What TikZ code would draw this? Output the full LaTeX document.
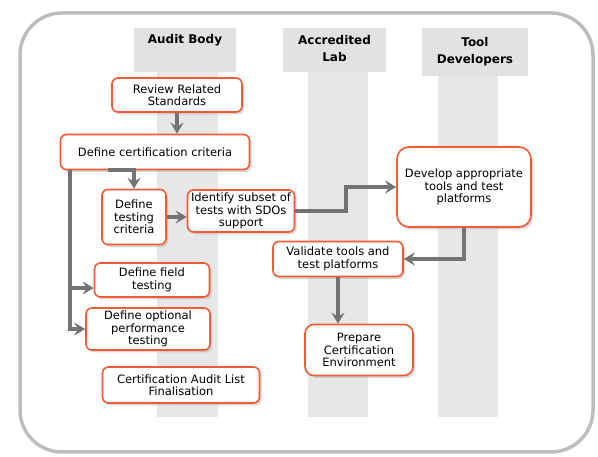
\documentclass[tikz,border=0pt]{standalone}
\usepackage{fontspec}
\setmainfont{DejaVu Sans}
\usetikzlibrary{
  arrows.meta,
  positioning,
  shadows,
  calc
}
\definecolor{laneFill}{HTML}{E7E7E7}
\definecolor{headFill}{HTML}{E2E2E2}
\definecolor{taskStroke}{HTML}{F45A36}
\definecolor{flowGray}{HTML}{737373}
\definecolor{frameGray}{HTML}{BDBDBD}
\tikzset{
  task/.style={
    rectangle, rounded corners=6pt, align=center, inner sep=2pt,
    draw=taskStroke, line width=1.6pt, fill=white,
    font=\fontsize{11.5}{12.5}\selectfont,
    drop shadow={shadow xshift=2pt, shadow yshift=-2.5pt, fill=black!30}
  },
  lane head/.style={
    align=center, font=\fontsize{12}{17}\selectfont\bfseries
  },
  flow/.style={-{Stealth[length=11pt,width=13pt,inset=4pt]},
    line width=3.6pt, draw=flowGray}
}

\begin{document}
\begin{tikzpicture}[x=1pt,y=-1pt]
    \useasboundingbox (0,0) rectangle (598,457);

    % outer frame
    \draw[frameGray, line width=3.5pt, rounded corners=42pt]
      (20,13) rectangle (593,452);

    % swim lanes
    \fill[laneFill] (157,72) rectangle (218,417);
    \fill[laneFill] (308,72) rectangle (368,417);
    \fill[laneFill] (438,76) rectangle (498,417);

    \fill[headFill] (134,28) rectangle (236,72);
    \fill[headFill] (283,28) rectangle (386,72);
    \fill[headFill] (422,28) rectangle (528,76);

    \node[lane head] (hAudit) at (185,40) {Audit Body};
    \node[lane head] (hLab) at (334.5,48.5) {Accredited\\Lab};
    \node[lane head] (hTool) at (475,51.5) {Tool\\Developers};

    % tasks
    \node[task, minimum width=130pt, minimum height=34pt] (review) at (177,95)
      {Review Related\\Standards};
    \node[task, minimum width=189pt, minimum height=35pt] (certcrit) at (155,152)
      {Define certification criteria};
    \node[task, minimum width=64pt, minimum height=55pt] (testcrit) at (134,217)
      {Define\\testing\\criteria};
    \node[task, minimum width=107pt, minimum height=42pt] (subset) at (241,211)
      {Identify subset of\\tests with SDOs\\support};
    \node[task, minimum width=134pt, minimum height=80pt, rounded corners=12pt]
      (develop) at (464,187)
      {Develop appropriate\\tools and test\\platforms};
    \node[task, minimum width=130pt, minimum height=35pt] (validate) at (338,259)
      {Validate tools and\\test platforms};
    \node[task, minimum width=108pt, minimum height=51pt, rounded corners=9pt]
      (prepare) at (359,350)
      {Prepare\\Certification\\Environment};
    \node[task, minimum width=115pt, minimum height=34pt] (field) at (152,280)
      {Define field\\testing};
    \node[task, minimum width=124pt, minimum height=42pt] (perf) at (148,329)
      {Define optional\\performance\\testing};
    \node[task, minimum width=157pt, minimum height=36pt] (finalise) at (181,385)
      {Certification Audit List\\Finalisation};

    % flows
    \coordinate (trunk) at ([xshift=-85pt]certcrit.south);

    \draw[flow] (review.south) -- (review.south |- certcrit.north);
    \draw[flow] ([xshift=-47pt]certcrit.south) -| (testcrit.north);
    \draw[flow] (trunk) |- ([yshift=-8pt]field.west);
    \draw[flow] (trunk) |- (perf.west);
    \draw[flow] (testcrit.east) -- (testcrit.east -| subset.west);
    \draw[flow] (subset.east) -| ($(subset.east)!0.5!(develop.west)$) |- (develop.west);
    \draw[flow] (develop.south) |- (validate.east);
    \draw[flow] (validate.south) -- (validate.south |- prepare.north);

\end{tikzpicture}
\end{document}
